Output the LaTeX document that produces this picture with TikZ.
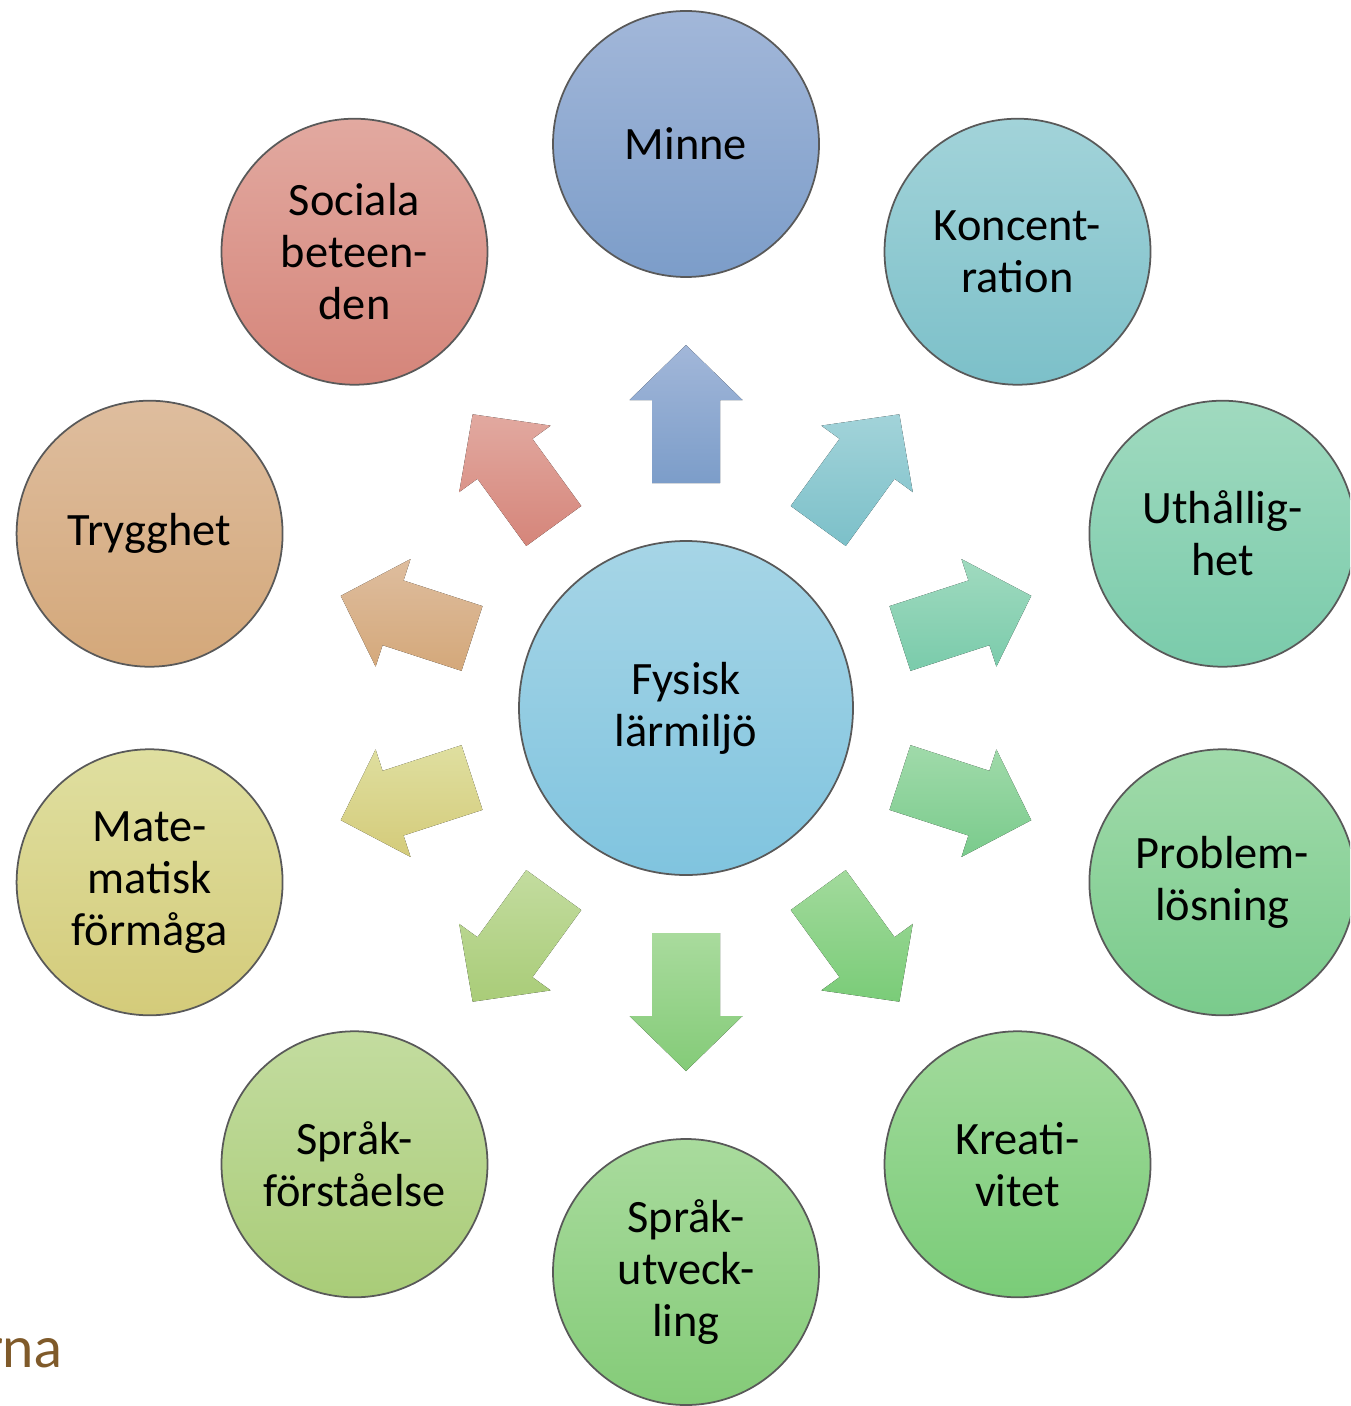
\documentclass[tikz,border=0pt]{standalone}
\usepackage{fontspec}
\setmainfont{Carlito}
\newfontfamily\rnafont{Lato}
\usepackage{tikz}
\usetikzlibrary{calc}

\definecolor{fysTop}{HTML}{A6D5E6}  \definecolor{fysBot}{HTML}{80C4DF}
\definecolor{minTop}{HTML}{A2B7D9}  \definecolor{minBot}{HTML}{7C9DC9}
\definecolor{konTop}{HTML}{A2D3D9}  \definecolor{konBot}{HTML}{7CC0C9}
\definecolor{uthTop}{HTML}{A0DABF}  \definecolor{uthBot}{HTML}{7ACBAB}
\definecolor{proTop}{HTML}{A0DAAA}  \definecolor{proBot}{HTML}{7ACB8C}
\definecolor{kreTop}{HTML}{A2DA9C}  \definecolor{kreBot}{HTML}{7ACC78}
\definecolor{utvTop}{HTML}{A9DB9D}  \definecolor{utvBot}{HTML}{84CB78}
\definecolor{forTop}{HTML}{C3DC9F}  \definecolor{forBot}{HTML}{A9CC78}
\definecolor{matTop}{HTML}{DFDFA0}  \definecolor{matBot}{HTML}{D4CB7A}
\definecolor{tryTop}{HTML}{DEBD9E}  \definecolor{tryBot}{HTML}{D4A87A}
\definecolor{socTop}{HTML}{E2A9A0}  \definecolor{socBot}{HTML}{D5857A}
\definecolor{rnabrown}{HTML}{7F5A2A}

% block arrow from the middle circle: angle, top colour, bottom colour
\newcommand\pil[3]{%
  \fill[top color=#2,bottom color=#3]
    ($(fys)+(#1:2.25)+(#1-90:0.34)$) -- ($(fys)+(#1:3.08)+(#1-90:0.34)$)
    -- ($(fys)+(#1:3.08)+(#1-90:0.565)$) -- ($(fys)+(#1:3.63)$)
    -- ($(fys)+(#1:3.08)+(#1+90:0.565)$) -- ($(fys)+(#1:3.08)+(#1+90:0.34)$)
    -- ($(fys)+(#1:2.25)+(#1+90:0.34)$) -- cycle;}

\begin{document}
\begin{tikzpicture}[
        x=1cm, y=1cm,
        every node/.style={font=\fontsize{13.2pt}{14.8pt}\selectfont, align=center},
        ring/.style={circle, draw=black!65, line width=0.5pt, minimum size=2.66cm, inner sep=0pt},
        mid/.style={ring, minimum size=3.34cm},
        ]
        \useasboundingbox (0,0) rectangle (13.5,-14.06);
        \clip (0,0) rectangle (13.5,-14.06);

        \node[mid, top color=fysTop, bottom color=fysBot](fys) at (6.86,-7.08){Fysisk\\lärmiljö};

        \node[ring, top color=minTop, bottom color=minBot](minne) at ($(fys)+(90:5.64)$){Minne};
        \node[ring, top color=konTop, bottom color=konBot](konc) at ($(fys)+(54:5.64)$){Koncent-\\ration};
        \node[ring, top color=uthTop, bottom color=uthBot](uth) at ($(fys)+(18:5.64)$){Uthållig-\\het};
        \node[ring, top color=proTop, bottom color=proBot](prob) at ($(fys)+(-18:5.64)$){Problem-\\lösning};
        \node[ring, top color=kreTop, bottom color=kreBot](krea) at ($(fys)+(-54:5.64)$){Kreati-\\vitet};
        \node[ring, top color=utvTop, bottom color=utvBot](utv) at ($(fys)+(-90:5.64)$){Språk-\\utveck-\\ling};
        \node[ring, top color=forTop, bottom color=forBot](forst) at ($(fys)+(-126:5.64)$){Språk-\\förståelse};
        \node[ring, top color=matTop, bottom color=matBot](mate) at ($(fys)+(-162:5.64)$){Mate-\\matisk\\förmåga};
        \node[ring, top color=tryTop, bottom color=tryBot](tryg) at ($(fys)+(162:5.64)$){Trygghet};
        \node[ring, top color=socTop, bottom color=socBot](soc) at ($(fys)+(126:5.64)$){Sociala\\beteen-\\den};

        \pil{90}{minTop}{minBot}
        \pil{54}{konTop}{konBot}
        \pil{18}{uthTop}{uthBot}
        \pil{-18}{proTop}{proBot}
        \pil{-54}{kreTop}{kreBot}
        \pil{-90}{utvTop}{utvBot}
        \pil{-126}{forTop}{forBot}
        \pil{-162}{matTop}{matBot}
        \pil{162}{tryTop}{tryBot}
        \pil{126}{socTop}{socBot}

        \node[anchor=base east, text=rnabrown, font=\rnafont\fontsize{16pt}{19pt}\selectfont, inner sep=0pt](rna) at (0.63,-13.67){rna};
\end{tikzpicture}
\end{document}
